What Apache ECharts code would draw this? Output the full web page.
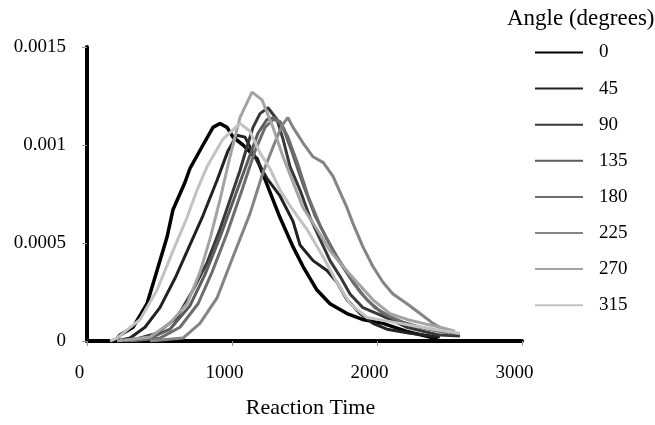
<!DOCTYPE html>
<html>
<head>
<meta charset="utf-8">
<script src="https://cdn.jsdelivr.net/npm/echarts@6/dist/echarts.min.js"></script>
<style>html,body{margin:0;padding:0;background:#fff}#c{width:655px;height:425px}</style>
</head>
<body>
<div id="c"></div>
<script>
const angles = ['0', '45', '90', '135', '180', '225', '270', '315'];
const xTicks = [0, 1000, 2000, 3000];
const xTickLabels = ['0', '1000', '2000', '3000'];
const yTickLabels = ['0', '0.0005', '0.001', '0.0015'];

const a0 = [[193,0],[228,0.00003],[317,0.00007],[414,0.00019],[483,0.00036],[552,0.00053],[593,0.00067],[676,0.00081],[710,0.00088],[800,0.00100],[869,0.00109],[917,0.00111],[966,0.00109],[1007,0.00104],[1076,0.00100],[1172,0.00093],[1262,0.00076],[1331,0.00063],[1421,0.00048],[1490,0.00038],[1586,0.00026],[1676,0.00019],[1793,0.00014],[1900,0.00011],[2041,0.00009],[2200,0.00005],[2366,0.00002],[2420,0.00001]];
const a45 = [[207,0],[297,0.000015],[400,0.00007],[503,0.00017],[607,0.00032],[710,0.00049],[800,0.00064],[897,0.00082],[972,0.00097],[1034,0.00105],[1090,0.00104],[1172,0.00092],[1241,0.00083],[1331,0.00074],[1421,0.00061],[1469,0.00049],[1559,0.00041],[1655,0.00036],[1724,0.00030],[1793,0.00021],[1883,0.00014],[1972,0.00009],[2069,0.00006],[2228,0.00004],[2434,0.00002]];
const a90 = [[262,0],[366,0.000015],[483,0.00004],[621,0.00012],[731,0.00026],[828,0.00040],[917,0.00057],[986,0.00072],[1055,0.00087],[1103,0.00099],[1145,0.00109],[1193,0.00116],[1248,0.00119],[1310,0.00113],[1352,0.00103],[1400,0.00089],[1469,0.00077],[1538,0.00063],[1607,0.00052],[1676,0.00041],[1745,0.00033],[1814,0.00024],[1903,0.00017],[2000,0.00014],[2090,0.00011],[2207,0.00007],[2317,0.00005],[2434,0.00003],[2572,0.000025]];
const a135 = [[262,0],[434,0.000015],[572,0.00006],[710,0.00018],[814,0.00034],[917,0.00053],[1021,0.00074],[1110,0.00092],[1179,0.00106],[1241,0.00113],[1297,0.00114],[1352,0.00109],[1421,0.00095],[1490,0.00080],[1572,0.00064],[1655,0.00052],[1745,0.00040],[1834,0.00030],[1931,0.00021],[2041,0.00014],[2159,0.00010],[2297,0.00007],[2434,0.00005],[2538,0.00004]];
const a180 = [[297,0],[503,0.000015],[641,0.00007],[766,0.00019],[862,0.00035],[966,0.00055],[1069,0.00077],[1159,0.00097],[1228,0.00109],[1283,0.00113],[1331,0.00112],[1386,0.00104],[1455,0.00090],[1524,0.00074],[1607,0.00059],[1697,0.00046],[1793,0.00035],[1883,0.00025],[1986,0.00017],[2103,0.00012],[2228,0.00008],[2366,0.00006],[2503,0.00004]];
const a225 = [[434,0],[662,0.000015],[779,0.00009],[897,0.00022],[1007,0.00043],[1124,0.00065],[1214,0.00086],[1283,0.00099],[1345,0.00110],[1385,0.00114],[1421,0.00109],[1490,0.00101],[1559,0.00094],[1630,0.00091],[1697,0.00084],[1745,0.00076],[1793,0.00068],[1834,0.00060],[1903,0.00048],[1972,0.00038],[2041,0.00030],[2110,0.00024],[2207,0.00019],[2297,0.00014],[2386,0.00009],[2455,0.00006],[2503,0.00004]];
const a270 = [[207,0],[434,0.00002],[572,0.00009],[690,0.00019],[779,0.00035],[848,0.00052],[917,0.00072],[986,0.00094],[1055,0.00114],[1138,0.00127],[1207,0.00123],[1283,0.00109],[1352,0.00094],[1421,0.00081],[1490,0.00068],[1586,0.00057],[1676,0.00046],[1766,0.00038],[1862,0.00030],[1972,0.00021],[2090,0.00014],[2207,0.00011],[2317,0.00009],[2434,0.00007],[2538,0.00005]];
const a315 = [[159,0],[207,0.000015],[366,0.00011],[483,0.00026],[593,0.00046],[690,0.00063],[759,0.00077],[828,0.00089],[938,0.00103],[1055,0.00111],[1124,0.00107],[1193,0.00096],[1262,0.00088],[1331,0.00077],[1400,0.00069],[1517,0.00057],[1628,0.00043],[1724,0.00030],[1814,0.00019],[1931,0.00012],[2159,0.00009],[2386,0.00006],[2572,0.00004]];

const seriesData = [a0, a45, a90, a135, a180, a225, a270, a315];
const colors = ['#000000', '#222222', '#383838', '#5c5c5c', '#6e6e6e', '#848484', '#a3a3a3', '#c2c2c2'];
const widths = [3.5, 3, 3, 3, 3, 3, 3, 3];
const FONT = 'Liberation Serif';

const chart = echarts.init(document.getElementById('c'), null, {renderer: 'canvas'});
chart.setOption({
  animation: false,
  backgroundColor: '#ffffff',
  title: {
    text: 'Angle (degrees)',
    left: 502, top: 2,
    textStyle: {fontFamily: FONT, fontSize: 23, fontWeight: 'normal', color: '#000'}
  },
  legend: {
    orient: 'vertical',
    left: 529, top: 38,
    itemWidth: 48, itemHeight: 14, itemGap: 17.1,
    data: angles,
    itemStyle: {opacity: 0},
    textStyle: {fontFamily: FONT, fontSize: 19, color: '#000', padding: [0, 0, 10, 11]}
  },
  grid: {left: 87, right: 133, top: 47, bottom: 84, containLabel: false},
  xAxis: {
    type: 'value', min: xTicks[0], max: xTicks[xTicks.length - 1], interval: 1000,
    name: 'Reaction Time', nameLocation: 'middle', nameGap: 56,
    nameTextStyle: {fontFamily: FONT, fontSize: 22, color: '#000', padding: [0, 0, 0, 12]},
    axisLine: {show: true, onZero: false, lineStyle: {color: '#000', width: 4}},
    axisTick: {show: true, inside: false, length: 5, lineStyle: {color: '#999', width: 1}},
    axisLabel: {fontFamily: FONT, fontSize: 19, color: '#000', margin: 23, padding: [0, 15, 0, 0],
      formatter: function (v) { return xTickLabels[xTicks.indexOf(Math.round(v))]; }},
    splitLine: {show: false}
  },
  yAxis: {
    type: 'value', min: 0, max: 0.0015, interval: 0.0005,
    axisLine: {show: true, lineStyle: {color: '#000', width: 4}},
    axisTick: {show: true, inside: false, length: 5, lineStyle: {color: '#999', width: 1}},
    axisLabel: {fontFamily: FONT, fontSize: 19, color: '#000', margin: 21,
      formatter: function (v) { return yTickLabels[Math.round(v / 0.0005)]; }},
    splitLine: {show: false}
  },
  series: seriesData.map(function (d, i) {
    return {
      name: angles[i], type: 'line', data: d,
      symbol: 'none', showSymbol: false, smooth: false,
      lineStyle: {color: colors[i], width: widths[i]},
      itemStyle: {color: colors[i]},
      z: 2 + i
    };
  })
});
</script>
</body>
</html>
